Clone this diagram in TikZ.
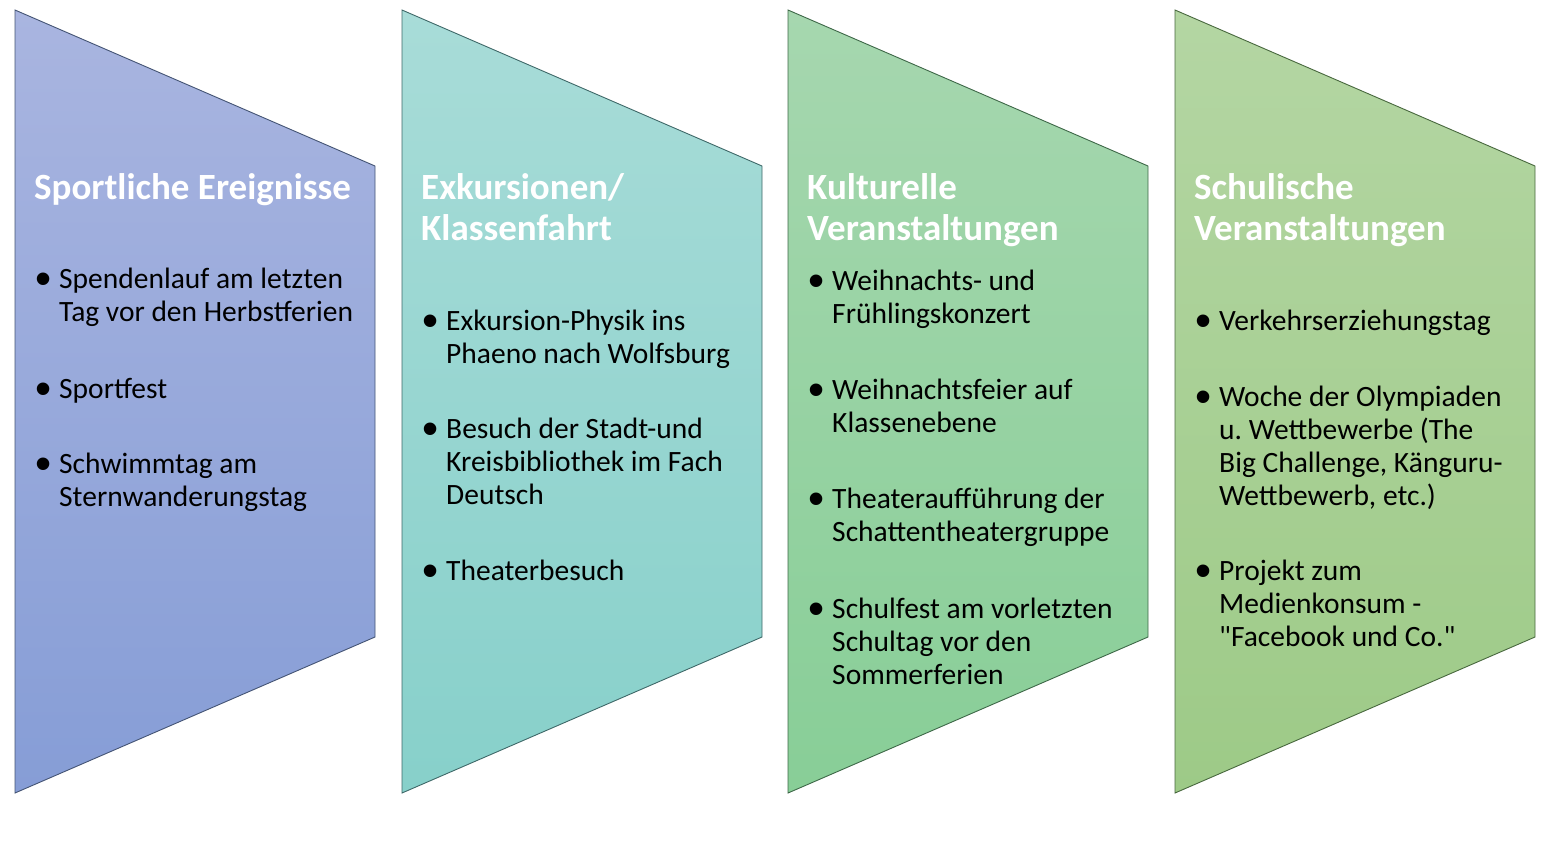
\documentclass[tikz,border=0pt]{standalone}
\usepackage{fontspec}
\setmainfont{Carlito}[Ligatures=TeXOff]
\newfontfamily\bulfont{Liberation Sans}
\definecolor{aTop}{RGB}{169,181,224}
\definecolor{aBot}{RGB}{134,157,214}
\definecolor{aLine}{RGB}{68,84,116}
\definecolor{bTop}{RGB}{168,220,216}
\definecolor{bBot}{RGB}{135,208,202}
\definecolor{bLine}{RGB}{62,104,104}
\definecolor{cTop}{RGB}{166,215,175}
\definecolor{cBot}{RGB}{136,206,151}
\definecolor{cLine}{RGB}{62,104,72}
\definecolor{dTop}{RGB}{180,214,163}
\definecolor{dBot}{RGB}{157,202,135}
\definecolor{dLine}{RGB}{72,104,62}
\newcommand\itm[1]{\makebox[25pt][l]{\hspace{1pt}\raisebox{-6pt}{\bulfont\fontsize{46}{46}\selectfont •}}%
  \parbox[t]{330pt}{\raggedright\strut #1}}
\tikzset{
  ttl/.style={anchor=north west, inner sep=0pt, align=left, text=white,
    font=\fontsize{37}{41}\selectfont\bfseries},
  item/.style={anchor=north west, inner sep=0pt,
    font=\fontsize{29.5}{33}\selectfont},
}
\begin{document}
\begin{tikzpicture}[x=1pt,y=-1pt]
\useasboundingbox (0,0) rectangle (1557,841);
% panels
\path[top color=aTop, bottom color=aBot, draw=aLine, line width=0.9pt]
  (15,10) -- (375,166) -- (375,637) -- (15,793) -- cycle;
\path[top color=bTop, bottom color=bBot, draw=bLine, line width=0.9pt]
  (402,10) -- (762,166) -- (762,637) -- (402,793) -- cycle;
\path[top color=cTop, bottom color=cBot, draw=cLine, line width=0.9pt]
  (788,10) -- (1148,166) -- (1148,637) -- (788,793) -- cycle;
\path[top color=dTop, bottom color=dBot, draw=dLine, line width=0.9pt]
  (1175,10) -- (1535,166) -- (1535,637) -- (1175,793) -- cycle;
% titles
\node[ttl] (t1) at (34,170.3) {\strut Sportliche Ereignisse};
\node[ttl] (t2) at (421,170.3) {\strut Exkursionen/\\Klassenfahrt};
\node[ttl] (t3) at (807,170.3) {\strut Kulturelle\\Veranstaltungen};
\node[ttl] (t4) at (1194,170.3) {\strut Schulische\\Veranstaltungen};
% panel 1
\node[item] (a1) at (34,264.9) {\itm{Spendenlauf am letzten\\Tag vor den Herbstferien}};
\node[item] (a2) at (34,374.9) {\itm{Sportfest}};
\node[item] (a3) at (34,449.9) {\itm{Schwimmtag am\\Sternwanderungstag}};
% panel 2
\node[item] (b1) at (421,306.9) {\itm{Exkursion-Physik ins\\Phaeno nach Wolfsburg}};
\node[item] (b2) at (421,414.9) {\itm{Besuch der Stadt-und\\Kreisbibliothek im Fach\\Deutsch}};
\node[item] (b3) at (421,556.9) {\itm{Theaterbesuch}};
% panel 3
\node[item] (c1) at (807,266.9) {\itm{Weihnachts- und\\Frühlingskonzert}};
\node[item] (c2) at (807,375.9) {\itm{Weihnachtsfeier auf\\Klassenebene}};
\node[item] (c3) at (807,484.9) {\itm{Theateraufführung der\\Schattentheatergruppe}};
\node[item] (c4) at (807,594.9) {\itm{Schulfest am vorletzten\\Schultag vor den\\Sommerferien}};
% panel 4
\node[item] (d1) at (1194,306.9) {\itm{Verkehrserziehungstag}};
\node[item] (d2) at (1194,382.9) {\itm{Woche der Olympiaden\\u.\ Wettbewerbe (The\\Big Challenge, Känguru-\\Wettbewerb, etc.)}};
\node[item] (d3) at (1194,556.9) {\itm{Projekt zum\\Medienkonsum -\\"Facebook und Co."}};
\end{tikzpicture}
\end{document}
